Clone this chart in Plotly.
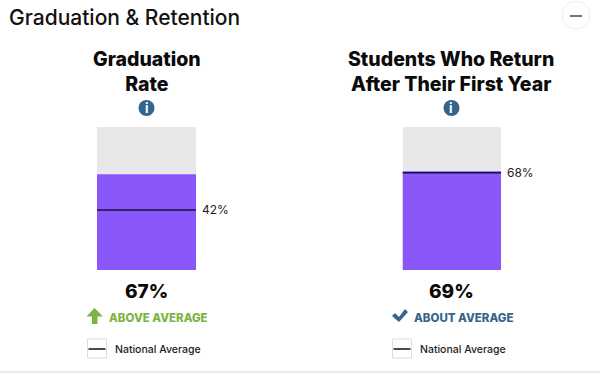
import plotly.graph_objects as go

# Data
panel_titles = ["Graduation<br>Rate", "Students Who Return<br>After Their First Year"]
school_values = [67, 69]
national_values = [42, 68]
scale_max = [100, 100]
value_labels = ["67%", "69%"]
national_labels = ["42%", "68%"]
status_labels = ["ABOVE AVERAGE", "ABOUT AVERAGE"]
status_colors = ["#7cb342", "#35648c"]
legend_label = "National Average"
chart_title = "Graduation & Retention"

W, H = 600, 375
FONT = "Inter, 'Open Sans', sans-serif"
PURPLE = "#8a58fa"
GRAY = "#e8e8e8"
BLUE = "#35648c"
INK = "#0b0b0b"


def px(x):
    return x / W


def py(y):
    return 1 - y / H


fig = go.Figure()
annotations = []
shapes = []


def note(x, y, text, size, color=INK, weight=400, xanchor="center", yref="paper"):
    annotations.append(dict(
        x=px(x), y=py(y) if yref == "paper" else y, xref="paper", yref=yref, text=text,
        showarrow=False, xanchor=xanchor, yanchor="middle", align="center",
        font=dict(family=FONT, size=size, color=color, weight=weight),
    ))


def deco(path=None, **kw):
    shapes.append(dict(xref="paper", yref="paper", path=path, **kw))


def pp(points):
    return "M" + " L".join(f"{px(x):.5f},{py(y):.5f}" for x, y in points) + " Z"


panels = [
    dict(left=97, right=196, cx=146.5, xa="x", ya="y"),
    dict(left=402.5, right=501, cx=451.5, xa="x2", ya="y2"),
]
TOP, BOTTOM = 127, 270

for i, p in enumerate(panels):
    fig.add_trace(go.Bar(x=[0], y=[scale_max[i]], width=[1], marker=dict(color=GRAY, line_width=0),
                         xaxis=p["xa"], yaxis=p["ya"], showlegend=False, hoverinfo="skip"))
    fig.add_trace(go.Bar(x=[0], y=[school_values[i]], width=[1], marker=dict(color=PURPLE, line_width=0),
                         xaxis=p["xa"], yaxis=p["ya"], showlegend=False, name=value_labels[i]))
    fig.add_trace(go.Scatter(x=[-0.5, 0.5], y=[national_values[i]] * 2, mode="lines",
                             line=dict(color="#1c0f3d", width=1.6), xaxis=p["xa"], yaxis=p["ya"],
                             showlegend=False, name=legend_label))

    # Panel texts
    note(p["cx"], 71, panel_titles[i], 19.5, weight=800)
    note(p["cx"], 291, value_labels[i], 19, weight=800)
    annotations.append(dict(
        x=px(p["right"] + 4), y=national_values[i], xref="paper", yref=p["ya"],
        text=national_labels[i], showarrow=False, xanchor="left", yanchor="middle",
        font=dict(family=FONT, size=12, color="#222222"),
    ))

    # Info icon
    deco(type="circle", x0=px(p["cx"] - 8), x1=px(p["cx"] + 8), y0=py(116), y1=py(100),
         fillcolor=BLUE, line_width=0)
    note(p["cx"], 108, "<b>i</b>", 13, color="#ffffff")

    # Legend
    lx = 87.5 if i == 0 else 392.5
    deco(type="rect", x0=px(lx), x1=px(lx + 19), y0=py(358), y1=py(339),
         fillcolor="#ffffff", line=dict(color="#dddddd", width=1))
    deco(type="line", x0=px(lx + 1), x1=px(lx + 18), y0=py(349), y1=py(349),
         line=dict(color="#111111", width=1.5))
    note(lx + 25, 349, legend_label, 10.5, color="#222222", xanchor="left", weight=500)

# Status lines
note(106.5, 318, status_labels[0], 11.5, color=status_colors[0], weight=800, xanchor="left")
note(412, 318, status_labels[1], 11.5, color=status_colors[1], weight=800, xanchor="left")

# Up arrow
deco(type="path", path=pp([(94.5, 308), (103, 316.5), (97.5, 316.5), (97.5, 324), (92, 324), (92, 316.5), (86.5, 316.5)]),
     fillcolor=status_colors[0], line_width=0)
# Check mark
deco(type="path", path=pp([(392, 316), (395, 313), (399, 317), (405, 309), (408, 312), (399, 322)]),
     fillcolor=status_colors[1], line_width=0)

# Title and collapse control
note(7, 17, chart_title, 21, color="#111111", xanchor="left", weight=500)
deco(type="circle", x0=px(562), x1=px(590), y0=py(29), y1=py(1), fillcolor="#ffffff",
     line=dict(color="#eeeeee", width=1))
deco(type="line", x0=px(570), x1=px(582), y0=py(16), y1=py(16), line=dict(color="#777777", width=2))
# Bottom rule
deco(type="line", x0=0, x1=1, y0=py(372), y1=py(372), line=dict(color="#e3e3e3", width=1.5))

axis = dict(visible=False, fixedrange=True)
fig.update_layout(
    width=W, height=H, margin=dict(l=0, r=0, t=0, b=0),
    paper_bgcolor="#ffffff", plot_bgcolor="#ffffff", barmode="overlay", showlegend=False,
    annotations=annotations, shapes=shapes,
    xaxis=dict(axis, domain=[px(97), px(196)], range=[-0.5, 0.5]),
    yaxis=dict(axis, domain=[py(BOTTOM), py(TOP)], range=[0, 100]),
    xaxis2=dict(axis, domain=[px(402.5), px(501)], range=[-0.5, 0.5]),
    yaxis2=dict(axis, domain=[py(BOTTOM), py(TOP)], range=[0, 100]),
)
fig.write_html("out.html", config=dict(displayModeBar=False),
               post_script="document.body.style.margin='0';")
